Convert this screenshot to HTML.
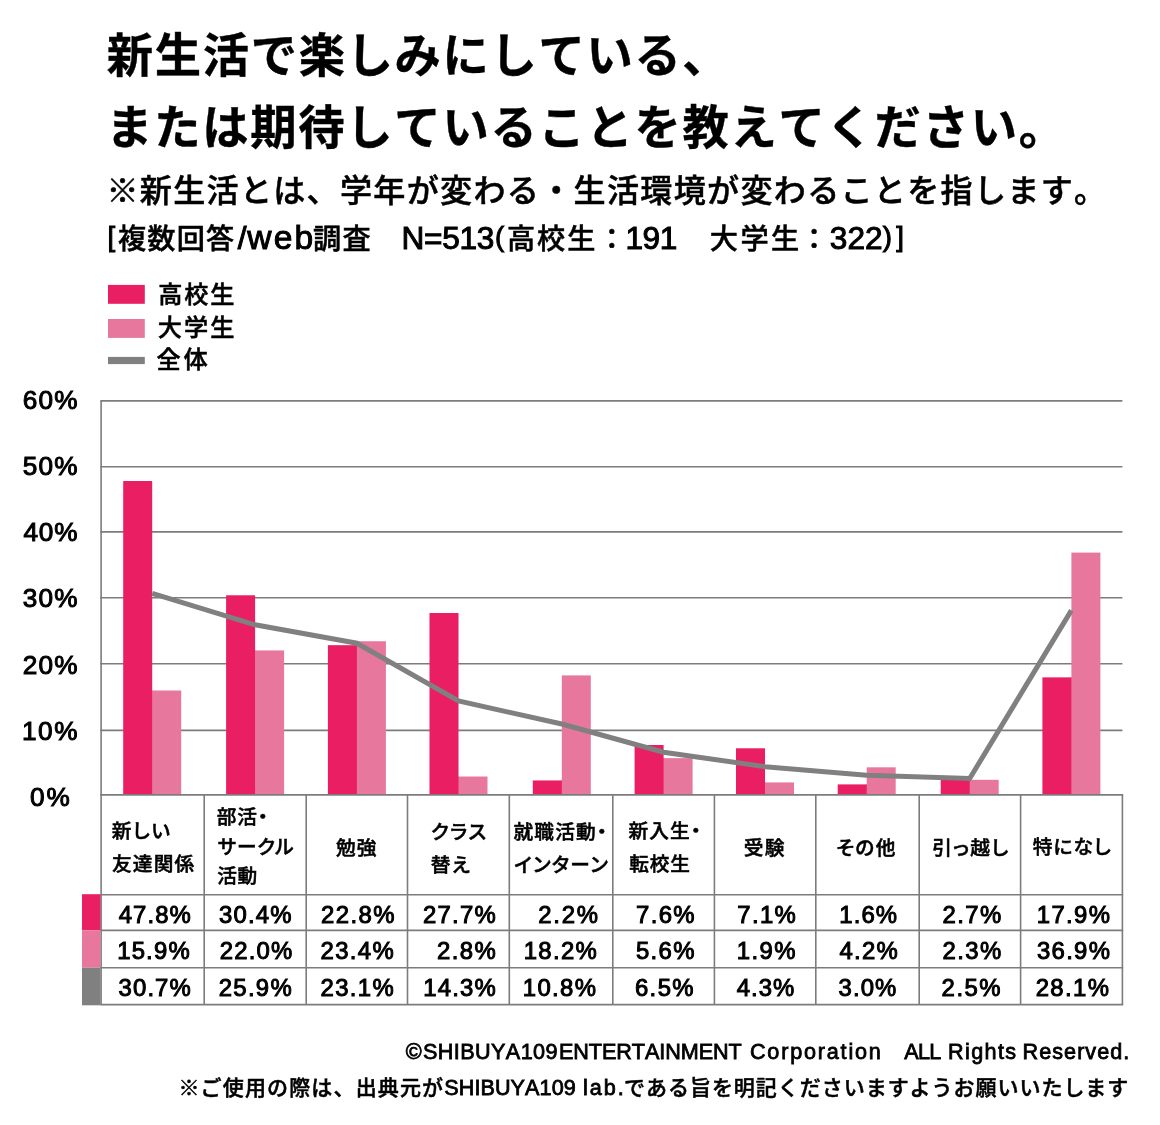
<!DOCTYPE html>
<html lang="ja">
<head>
<meta charset="utf-8">
<title>新生活で楽しみにしている、または期待していることを教えてください。</title>
<style>
html,body{margin:0;padding:0;background:#fff;}
body{width:1160px;height:1125px;position:relative;overflow:hidden;font-family:"Liberation Sans","Noto Sans CJK JP",sans-serif;color:#000;}
.chart{position:absolute;left:0;top:0;}
header,section,footer{display:block;margin:0;padding:0;}
.l{position:absolute;left:0;margin:0;white-space:pre;font-weight:500;line-height:1.2;-webkit-text-stroke:0.5px #000;font-kerning:none;}
.a{-webkit-text-stroke:1px #000;}
.title{font-size:46.3px;font-weight:700;-webkit-text-stroke:0.4px #000;}
.sub{font-size:32.1px;}
.note{font-size:28.2px;}
.note .a{font-size:31.6px;}
.note .w{font-size:33.6px;}
.note .b{font-size:27.6px;vertical-align:2.6px;-webkit-text-stroke:1px #000;}
.leg{font-size:24.2px;}
.yl{font-size:26.2px;}
.hd{font-size:19.7px;font-feature-settings:"palt";font-kerning:normal;}
.num{font-size:23.9px;}
.ft{font-size:21px;}
.ft.a,.ft .a{font-size:21.6px;-webkit-text-stroke:0.8px #000;}
</style>
</head>
<body>
<svg class="chart" width="1160" height="1125" viewBox="0 0 1160 1125" role="img" aria-label="chart">
<line x1="100.30" y1="730.40" x2="1122.40" y2="730.40" stroke="#7c7c7c" stroke-width="1.6"/>
<line x1="100.30" y1="663.80" x2="1122.40" y2="663.80" stroke="#7c7c7c" stroke-width="1.6"/>
<line x1="100.30" y1="597.70" x2="1122.40" y2="597.70" stroke="#7c7c7c" stroke-width="1.6"/>
<line x1="100.30" y1="531.90" x2="1122.40" y2="531.90" stroke="#7c7c7c" stroke-width="1.6"/>
<line x1="100.30" y1="466.70" x2="1122.40" y2="466.70" stroke="#7c7c7c" stroke-width="1.6"/>
<line x1="100.30" y1="400.90" x2="1122.40" y2="400.90" stroke="#7c7c7c" stroke-width="1.6"/>
<rect x="152.20" y="690.49" width="29.00" height="104.41" fill="#e8779e"/>
<rect x="151.20" y="690.49" width="1.5" height="104.41" fill="#e8779e"/>
<rect x="123.20" y="481.01" width="29.00" height="313.89" fill="#e91e63"/>
<rect x="255.10" y="650.43" width="29.00" height="144.47" fill="#e8779e"/>
<rect x="254.10" y="650.43" width="1.5" height="144.47" fill="#e8779e"/>
<rect x="226.10" y="595.27" width="29.00" height="199.63" fill="#e91e63"/>
<rect x="356.90" y="641.24" width="29.00" height="153.66" fill="#e8779e"/>
<rect x="355.90" y="645.18" width="1.5" height="149.72" fill="#e8779e"/>
<rect x="327.90" y="645.18" width="29.00" height="149.72" fill="#e91e63"/>
<rect x="458.50" y="776.51" width="29.00" height="18.39" fill="#e8779e"/>
<rect x="457.50" y="776.51" width="1.5" height="18.39" fill="#e8779e"/>
<rect x="429.50" y="613.00" width="29.00" height="181.90" fill="#e91e63"/>
<rect x="561.80" y="675.39" width="29.00" height="119.51" fill="#e8779e"/>
<rect x="560.80" y="780.45" width="1.5" height="14.45" fill="#e8779e"/>
<rect x="532.80" y="780.45" width="29.00" height="14.45" fill="#e91e63"/>
<rect x="663.60" y="758.13" width="29.00" height="36.77" fill="#e8779e"/>
<rect x="662.60" y="758.13" width="1.5" height="36.77" fill="#e8779e"/>
<rect x="634.60" y="744.99" width="29.00" height="49.91" fill="#e91e63"/>
<rect x="765.00" y="782.42" width="29.00" height="12.48" fill="#e8779e"/>
<rect x="764.00" y="782.42" width="1.5" height="12.48" fill="#e8779e"/>
<rect x="736.00" y="748.28" width="29.00" height="46.62" fill="#e91e63"/>
<rect x="866.70" y="767.32" width="29.00" height="27.58" fill="#e8779e"/>
<rect x="865.70" y="784.39" width="1.5" height="10.51" fill="#e8779e"/>
<rect x="837.70" y="784.39" width="29.00" height="10.51" fill="#e91e63"/>
<rect x="969.70" y="779.80" width="29.00" height="15.10" fill="#e8779e"/>
<rect x="968.70" y="779.80" width="1.5" height="15.10" fill="#e8779e"/>
<rect x="940.70" y="777.17" width="29.00" height="17.73" fill="#e91e63"/>
<rect x="1071.40" y="552.59" width="29.00" height="242.31" fill="#e8779e"/>
<rect x="1070.40" y="677.36" width="1.5" height="117.54" fill="#e8779e"/>
<rect x="1042.40" y="677.36" width="29.00" height="117.54" fill="#e91e63"/>
<line x1="100.30" y1="794.90" x2="1123.20" y2="794.90" stroke="#7c7c7c" stroke-width="1.6"/>
<line x1="100.30" y1="894.70" x2="1123.20" y2="894.70" stroke="#7c7c7c" stroke-width="1.6"/>
<line x1="100.30" y1="930.40" x2="1123.20" y2="930.40" stroke="#7c7c7c" stroke-width="1.6"/>
<line x1="100.30" y1="967.70" x2="1123.20" y2="967.70" stroke="#7c7c7c" stroke-width="1.6"/>
<line x1="100.30" y1="1004.60" x2="1123.20" y2="1004.60" stroke="#7c7c7c" stroke-width="1.6"/>
<line x1="101.10" y1="400.90" x2="101.10" y2="1004.60" stroke="#7c7c7c" stroke-width="1.6"/>
<line x1="204.20" y1="794.90" x2="204.20" y2="1004.60" stroke="#7c7c7c" stroke-width="1.6"/>
<line x1="306.20" y1="794.90" x2="306.20" y2="1004.60" stroke="#7c7c7c" stroke-width="1.6"/>
<line x1="407.50" y1="794.90" x2="407.50" y2="1004.60" stroke="#7c7c7c" stroke-width="1.6"/>
<line x1="509.30" y1="794.90" x2="509.30" y2="1004.60" stroke="#7c7c7c" stroke-width="1.6"/>
<line x1="612.80" y1="794.90" x2="612.80" y2="1004.60" stroke="#7c7c7c" stroke-width="1.6"/>
<line x1="714.40" y1="794.90" x2="714.40" y2="1004.60" stroke="#7c7c7c" stroke-width="1.6"/>
<line x1="815.80" y1="794.90" x2="815.80" y2="1004.60" stroke="#7c7c7c" stroke-width="1.6"/>
<line x1="919.20" y1="794.90" x2="919.20" y2="1004.60" stroke="#7c7c7c" stroke-width="1.6"/>
<line x1="1020.60" y1="794.90" x2="1020.60" y2="1004.60" stroke="#7c7c7c" stroke-width="1.6"/>
<line x1="1122.40" y1="794.90" x2="1122.40" y2="1004.60" stroke="#7c7c7c" stroke-width="1.6"/>
<rect x="82.0" y="894.20" width="18.50" height="36.20" fill="#e91e63"/>
<rect x="82.0" y="930.40" width="18.50" height="37.30" fill="#e8779e"/>
<rect x="82.0" y="967.70" width="18.50" height="37.60" fill="#808080"/>
<polyline points="152.20,593.30 255.10,624.82 356.90,643.21 458.50,701.00 561.80,723.98 663.60,752.22 765.00,766.66 866.70,775.20 969.70,778.48 1071.40,610.38" fill="none" stroke="#808080" stroke-width="5.0" stroke-linejoin="miter"/>
<rect x="108" y="284.9" width="36.8" height="18.9" fill="#e91e63"/>
<rect x="108" y="319" width="36.8" height="18.9" fill="#e8779e"/>
<rect x="108" y="356.9" width="36.8" height="7.2" fill="#808080"/>
</svg>
<header class="g-heading">
<div class="l title" style="top:29.00px"><span style="margin-left:106.87px;letter-spacing:1.66px;">新生活で楽しみにしている、</span></div>
<div class="l title" style="top:100.89px"><span style="margin-left:106.19px;letter-spacing:1.73px;">または期待していることを教えてください。</span></div>
<div class="l sub" style="top:171.53px"><span style="margin-left:106.41px;letter-spacing:1.29px;">※新生活とは、学年が変わる・生活環境が変わることを指します。</span></div>
<div class="l note" style="top:217.50px"><span class="b" style="margin-left:107.54px;">[</span><span style="margin-left:2.84px;letter-spacing:1.11px;">複数回答</span><span class="a" style="margin-left:2.42px;">/</span><span class="a w" style="margin-left:0.84px;letter-spacing:2.21px;">web</span><span style="margin-left:-2.52px;letter-spacing:1.37px;">調査　</span><span class="a" style="margin-left:-0.11px;letter-spacing:-0.33px;">N=513</span><span class="b" style="margin-left:1.19px;">(</span><span style="margin-left:2.76px;letter-spacing:1.88px;">高校生</span><span style="margin-left:0.44px;">：</span><span class="a" style="margin-left:-0.42px;letter-spacing:-0.43px;">191</span><span style="margin-left:2.11px;letter-spacing:2.50px;">　大学生</span><span style="margin-left:-1.86px;">：</span><span class="a" style="margin-left:1.61px;letter-spacing:0.10px;">322</span><span class="b" style="margin-left:-0.13px;">)</span><span class="b" style="margin-left:4.33px;">]</span></div>
</header>
<section class="g-legend">
<div class="l leg" style="top:280.39px"><span style="margin-left:158.20px;letter-spacing:1.85px;">高校生</span></div>
<div class="l leg" style="top:313.06px"><span style="margin-left:157.67px;letter-spacing:2.12px;">大学生</span></div>
<div class="l leg" style="top:344.51px"><span style="margin-left:156.42px;letter-spacing:2.85px;">全体</span></div>
</section>
<section class="g-y-axis">
<div class="l yl a" style="top:781.90px"><span style="margin-left:29.96px;letter-spacing:1.88px;">0%</span></div>
<div class="l yl a" style="top:715.54px"><span style="margin-left:22.06px;letter-spacing:1.49px;">10%</span></div>
<div class="l yl a" style="top:649.54px"><span style="margin-left:22.68px;letter-spacing:1.19px;">20%</span></div>
<div class="l yl a" style="top:582.96px"><span style="margin-left:22.72px;letter-spacing:1.16px;">30%</span></div>
<div class="l yl a" style="top:516.86px"><span style="margin-left:23.38px;letter-spacing:0.83px;">40%</span></div>
<div class="l yl a" style="top:451.00px"><span style="margin-left:22.63px;letter-spacing:1.21px;">50%</span></div>
<div class="l yl a" style="top:384.50px"><span style="margin-left:22.70px;letter-spacing:1.17px;">60%</span></div>
</section>
<section class="g-categories">
<div class="l hd" style="top:819.58px"><span style="margin-left:111.82px;letter-spacing:1.60px;">新しい</span></div>
<div class="l hd" style="top:852.83px"><span style="margin-left:112.02px;letter-spacing:1.17px;">友達関係</span></div>
<div class="l hd" style="top:806.20px"><span style="margin-left:216.84px;letter-spacing:0.83px;">部活・</span></div>
<div class="l hd" style="top:835.58px"><span style="margin-left:217.70px;letter-spacing:0.82px;">サークル</span></div>
<div class="l hd" style="top:865.30px"><span style="margin-left:217.15px;letter-spacing:0.75px;">活動</span></div>
<div class="l hd" style="top:836.70px"><span style="margin-left:336.02px;letter-spacing:1.00px;">勉強</span></div>
<div class="l hd" style="top:821.15px"><span style="margin-left:431.11px;letter-spacing:1.51px;">クラス</span></div>
<div class="l hd" style="top:853.50px"><span style="margin-left:430.82px;letter-spacing:1.52px;">替え</span></div>
<div class="l hd" style="top:820.50px"><span style="margin-left:513.45px;letter-spacing:1.17px;">就職活動・</span></div>
<div class="l hd" style="top:853.67px"><span style="margin-left:514.31px;letter-spacing:1.39px;">インターン</span></div>
<div class="l hd" style="top:819.93px"><span style="margin-left:628.54px;letter-spacing:1.08px;">新入生・</span></div>
<div class="l hd" style="top:852.50px"><span style="margin-left:629.30px;letter-spacing:0.73px;">転校生</span></div>
<div class="l hd" style="top:836.63px"><span style="margin-left:743.80px;letter-spacing:1.23px;">受験</span></div>
<div class="l hd" style="top:836.60px"><span style="margin-left:836.38px;letter-spacing:1.27px;">その他</span></div>
<div class="l hd" style="top:836.50px"><span style="margin-left:932.15px;letter-spacing:1.42px;">引っ越し</span></div>
<div class="l hd" style="top:836.00px"><span style="margin-left:1032.65px;letter-spacing:1.12px;">特になし</span></div>
</section>
<section class="g-values">
<div class="l num a" style="top:900.50px"><span style="margin-left:118.72px;letter-spacing:1.07px;">47.8%</span></div>
<div class="l num a" style="top:900.50px"><span style="margin-left:219.06px;letter-spacing:1.19px;">30.4%</span></div>
<div class="l num a" style="top:900.50px"><span style="margin-left:320.89px;letter-spacing:1.50px;">22.8%</span></div>
<div class="l num a" style="top:900.50px"><span style="margin-left:422.89px;letter-spacing:1.28px;">27.7%</span></div>
<div class="l num a" style="top:900.50px"><span style="margin-left:538.16px;letter-spacing:1.81px;">2.2%</span></div>
<div class="l num a" style="top:900.50px"><span style="margin-left:636.02px;letter-spacing:1.38px;">7.6%</span></div>
<div class="l num a" style="top:900.50px"><span style="margin-left:737.35px;letter-spacing:1.32px;">7.1%</span></div>
<div class="l num a" style="top:900.50px"><span style="margin-left:839.35px;letter-spacing:1.07px;">1.6%</span></div>
<div class="l num a" style="top:900.50px"><span style="margin-left:942.59px;letter-spacing:1.40px;">2.7%</span></div>
<div class="l num a" style="top:900.50px"><span style="margin-left:1036.87px;letter-spacing:1.33px;">17.9%</span></div>
<div class="l num a" style="top:936.80px"><span style="margin-left:117.21px;letter-spacing:1.17px;">15.9%</span></div>
<div class="l num a" style="top:936.80px"><span style="margin-left:219.64px;letter-spacing:1.25px;">22.0%</span></div>
<div class="l num a" style="top:936.80px"><span style="margin-left:320.59px;letter-spacing:1.36px;">23.4%</span></div>
<div class="l num a" style="top:936.80px"><span style="margin-left:436.89px;letter-spacing:1.51px;">2.8%</span></div>
<div class="l num a" style="top:936.80px"><span style="margin-left:523.69px;letter-spacing:1.35px;">18.2%</span></div>
<div class="l num a" style="top:936.80px"><span style="margin-left:636.05px;letter-spacing:1.29px;">5.6%</span></div>
<div class="l num a" style="top:936.80px"><span style="margin-left:736.87px;letter-spacing:1.41px;">1.9%</span></div>
<div class="l num a" style="top:936.80px"><span style="margin-left:839.57px;letter-spacing:1.21px;">4.2%</span></div>
<div class="l num a" style="top:936.80px"><span style="margin-left:942.59px;letter-spacing:1.40px;">2.3%</span></div>
<div class="l num a" style="top:936.80px"><span style="margin-left:1036.95px;letter-spacing:1.31px;">36.9%</span></div>
<div class="l num a" style="top:973.80px"><span style="margin-left:118.62px;letter-spacing:1.10px;">30.7%</span></div>
<div class="l num a" style="top:973.80px"><span style="margin-left:218.64px;letter-spacing:1.34px;">25.9%</span></div>
<div class="l num a" style="top:973.80px"><span style="margin-left:320.59px;letter-spacing:1.36px;">23.1%</span></div>
<div class="l num a" style="top:973.80px"><span style="margin-left:423.19px;letter-spacing:1.19px;">14.3%</span></div>
<div class="l num a" style="top:973.80px"><span style="margin-left:522.87px;letter-spacing:1.33px;">10.8%</span></div>
<div class="l num a" style="top:973.80px"><span style="margin-left:634.91px;letter-spacing:1.40px;">6.5%</span></div>
<div class="l num a" style="top:973.80px"><span style="margin-left:736.72px;letter-spacing:1.04px;">4.3%</span></div>
<div class="l num a" style="top:973.80px"><span style="margin-left:838.62px;letter-spacing:1.06px;">3.0%</span></div>
<div class="l num a" style="top:973.80px"><span style="margin-left:941.59px;letter-spacing:1.52px;">2.5%</span></div>
<div class="l num a" style="top:973.80px"><span style="margin-left:1035.64px;letter-spacing:1.39px;">28.1%</span></div>
</section>
<footer class="g-credits">
<div class="l ft a" style="top:1038.55px"><span style="margin-left:405.67px;">©</span><span style="margin-left:1.31px;letter-spacing:0.43px;">SHIBUYA109</span><span style="margin-left:0.89px;letter-spacing:-0.06px;">ENTERTAINMENT </span><span style="margin-left:2.32px;letter-spacing:1.81px;">Corporation</span><span style="margin-left:0.48px;letter-spacing:-0.60px;">　ALL </span><span style="margin-left:1.87px;letter-spacing:1.37px;">Rights </span><span style="margin-left:-2.25px;letter-spacing:1.04px;">Reserved.</span></div>
<div class="l ft" style="top:1074.52px"><span style="margin-left:178.44px;letter-spacing:1.15px;">※ご使用の際は、出典元が</span><span class="a" style="margin-left:0.03px;letter-spacing:0.07px;">SHIBUYA109 </span><span class="a" style="margin-left:1.11px;letter-spacing:1.98px;">lab.</span><span style="margin-left:-1.74px;letter-spacing:0.97px;">である旨を明記くださいますようお願いいたします</span></div>
</footer>
</body>
</html>
